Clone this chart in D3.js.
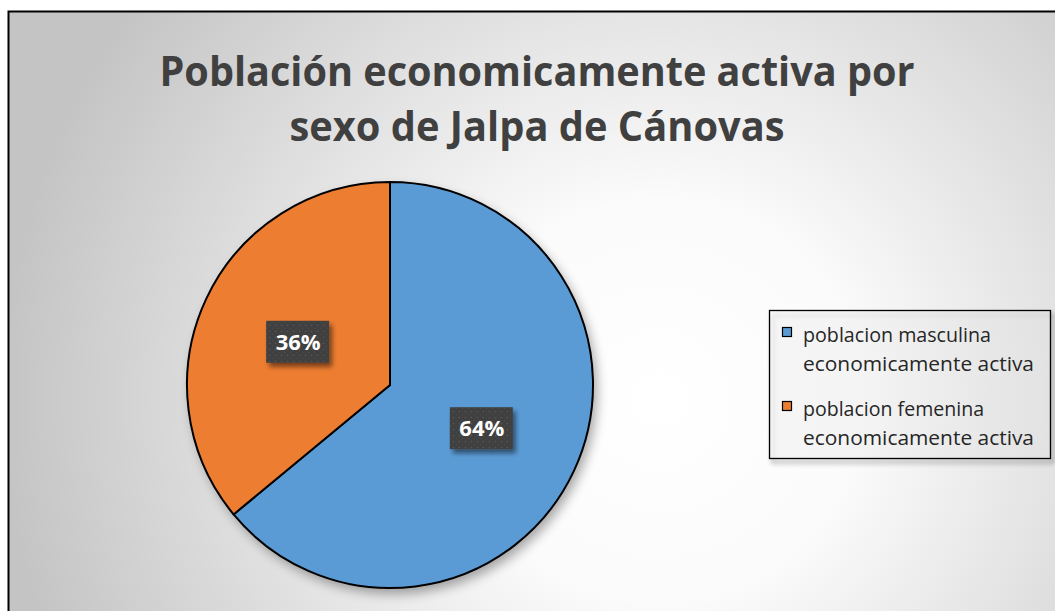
<!DOCTYPE html>
<html>
<head>
<meta charset="utf-8">
<script src="https://cdnjs.cloudflare.com/ajax/libs/d3/7.8.5/d3.min.js"></script>
<style>
  html, body { margin: 0; padding: 0; background: #fff; }
  svg { display: block; }
</style>
</head>
<body>
<div id="chart"></div>
<script>
// data
var categories = ["poblacion masculina economicamente activa", "poblacion femenina economicamente activa"]
var shares = [64, 36]
var colors = ["#5b9bd5", "#ed7d31"]
var legendLines = [["poblacion masculina", "economicamente activa"], ["poblacion femenina", "economicamente activa"]]
var titleLines = ["Población economicamente activa por", "sexo de Jalpa de Cánovas"]

var width = 1055, height = 611
var cx = 390, cy = 385, radius = 203

var svg = d3.select("#chart")
  .append("svg")
  .attr("width", width)
  .attr("height", height)

var defs = svg.append("defs")

// background radial gradient
var bg = defs.append("radialGradient")
  .attr("id", "bg")
  .attr("gradientUnits", "userSpaceOnUse")
  .attr("cx", 660).attr("cy", 400).attr("r", 660)
bg.append("stop").attr("offset", "0%").attr("stop-color", "#ffffff")
bg.append("stop").attr("offset", "30%").attr("stop-color", "#fbfbfb")
bg.append("stop").attr("offset", "100%").attr("stop-color", "#c4c4c4")

// soft shadow
var sh = defs.append("filter").attr("id", "shadow")
  .attr("x", "-20%").attr("y", "-20%").attr("width", "150%").attr("height", "150%")
sh.append("feGaussianBlur").attr("in", "SourceAlpha").attr("stdDeviation", 6)
sh.append("feOffset").attr("dx", 4).attr("dy", 6).attr("result", "b")
sh.append("feComponentTransfer").append("feFuncA").attr("type", "linear").attr("slope", 0.35)
var m = sh.append("feMerge")
m.append("feMergeNode")
m.append("feMergeNode").attr("in", "SourceGraphic")

var sh2 = defs.append("filter").attr("id", "shadow2")
  .attr("x", "-30%").attr("y", "-30%").attr("width", "170%").attr("height", "180%")
sh2.append("feGaussianBlur").attr("in", "SourceAlpha").attr("stdDeviation", 2.5)
sh2.append("feOffset").attr("dx", 3).attr("dy", 4).attr("result", "b")
sh2.append("feComponentTransfer").append("feFuncA").attr("type", "linear").attr("slope", 0.5)
var m2 = sh2.append("feMerge")
m2.append("feMergeNode")
m2.append("feMergeNode").attr("in", "SourceGraphic")

// dotted pattern for the label boxes
var pat = defs.append("pattern").attr("id", "dots")
  .attr("patternUnits", "userSpaceOnUse").attr("width", 6).attr("height", 6)
pat.append("rect").attr("width", 6).attr("height", 6).attr("fill", "#404040")
pat.append("circle").attr("cx", 1.5).attr("cy", 1.5).attr("r", 0.8).attr("fill", "#595959")
pat.append("circle").attr("cx", 4.5).attr("cy", 4.5).attr("r", 0.6).attr("fill", "#4e4e4e")

svg.append("rect")
  .attr("x", 8.5).attr("y", 11.5)
  .attr("width", width + 20).attr("height", height + 20)
  .attr("fill", "url(#bg)")
  .attr("stroke", "#000").attr("stroke-width", 2)

// title
var title = svg.append("g")
  .attr("fill", "#404040")
  .attr("font-family", "'Open Sans', Lato, sans-serif")
  .attr("font-weight", "bold")
  .attr("font-size", 42)
  .attr("text-anchor", "middle")
var titleWidths = [755, 495]
titleLines.forEach(function(t, i) {
  title.append("text")
    .attr("x", 537).attr("y", 86 + i * 55)
    .attr("textLength", titleWidths[i])
    .attr("lengthAdjust", "spacingAndGlyphs")
    .text(t)
})

// pie
var pie = d3.pie().sort(null).value(function(d) { return d })
var arc = d3.arc().innerRadius(0).outerRadius(radius)
var labelArc = d3.arc().innerRadius(radius / 2).outerRadius(radius / 2)
var arcs = pie(shares)

var g = svg.append("g").attr("transform", "translate(" + cx + "," + cy + ")")

g.append("circle").attr("r", radius).attr("fill", "#888").attr("filter", "url(#shadow)")

g.selectAll("path.slice")
  .data(arcs)
  .enter()
  .append("path")
    .attr("class", "slice")
    .attr("d", arc)
    .attr("fill", function(d, i) { return colors[i] })
    .attr("stroke", "#000")
    .attr("stroke-width", 2)
    .attr("stroke-linejoin", "round")

// data labels
var labels = g.selectAll("g.lab")
  .data(arcs)
  .enter()
  .append("g")
    .attr("class", "lab")
    .attr("transform", function(d) { return "translate(" + labelArc.centroid(d) + ")" })

labels.append("rect")
  .attr("x", -32).attr("y", -21)
  .attr("width", 63).attr("height", 42)
  .attr("fill", "url(#dots)")
  .attr("filter", "url(#shadow2)")

labels.append("text")
  .attr("text-anchor", "middle")
  .attr("dy", "0.36em")
  .attr("fill", "#fff")
  .attr("font-family", "'Open Sans', Lato, sans-serif")
  .attr("font-weight", "bold")
  .attr("font-size", 22)
  .text(function(d) { return d.data + "%" })

// legend
var legend = svg.append("g")
legend.append("rect")
  .attr("x", 769.5).attr("y", 310.5)
  .attr("width", 281).attr("height", 148)
  .attr("fill", "#fff").attr("fill-opacity", 0.15)
  .attr("stroke", "#000").attr("stroke-width", 1.3)
  .attr("filter", "url(#shadow2)")

var items = legend.selectAll("g.item")
  .data(categories)
  .enter()
  .append("g")
    .attr("class", "item")
    .attr("transform", function(d, i) { return "translate(0," + (i * 74) + ")" })

items.append("rect")
  .attr("x", 782.5).attr("y", 327.5)
  .attr("width", 9).attr("height", 9)
  .attr("fill", function(d, i) { return colors[i] })
  .attr("stroke", "#000").attr("stroke-width", 1.2)

items.each(function(d, i) {
  var t = d3.select(this).append("text")
    .attr("fill", "#262626")
    .attr("font-family", "'Open Sans', Lato, sans-serif")
    .attr("font-size", 19.5)
  legendLines[i].forEach(function(line, j) {
    t.append("tspan")
      .attr("x", 803).attr("y", 342 + j * 29)
      .attr("textLength", j == 1 ? 231 : (i == 0 ? 188 : 181))
      .attr("lengthAdjust", "spacingAndGlyphs")
      .text(line)
  })
})
</script>
</body>
</html>
